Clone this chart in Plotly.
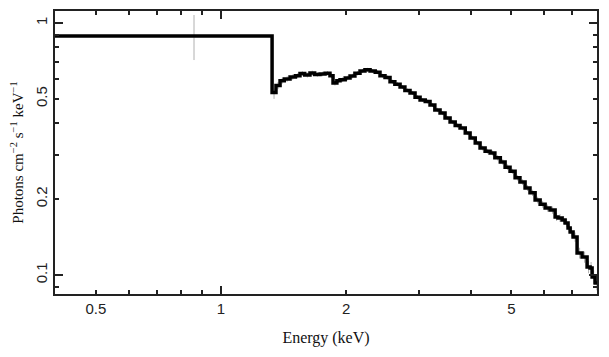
import plotly.graph_objects as go
import math

# Bin lower edges (keV) and flux (photons cm^-2 s^-1 keV^-1)
energy_lo = [0.395, 1.327, 1.356, 1.387, 1.42, 1.466, 1.51, 1.549, 1.59, 1.637,
             1.68, 1.731, 1.78, 1.829, 1.860, 1.90, 1.934, 1.99, 2.044, 2.10,
             2.160, 2.22, 2.284, 2.35, 2.413, 2.481, 2.551, 2.62, 2.697, 2.77,
             2.850, 2.93, 3.013, 3.10, 3.184, 3.27, 3.366, 3.46, 3.558, 3.66,
             3.760, 3.87, 3.975, 4.09, 4.201, 4.32, 4.441, 4.56, 4.70, 4.826,
             4.96, 5.101, 5.24, 5.391, 5.54, 5.699, 5.86, 6.024, 6.19, 6.367,
             6.47, 6.617, 6.73, 6.840, 6.92, 7.033, 7.191, 7.393, 7.601, 7.728,
             7.815, 7.946]
energy_end = 8.1
flux = [0.888, 0.530, 0.565, 0.590, 0.600, 0.610, 0.618, 0.630, 0.622, 0.633,
        0.625, 0.628, 0.632, 0.618, 0.578, 0.590, 0.596, 0.605, 0.616, 0.632,
        0.645, 0.652, 0.645, 0.638, 0.618, 0.608, 0.585, 0.572, 0.557, 0.540,
        0.528, 0.508, 0.495, 0.488, 0.473, 0.452, 0.439, 0.420, 0.405, 0.392,
        0.383, 0.366, 0.350, 0.334, 0.319, 0.310, 0.305, 0.292, 0.281, 0.268,
        0.258, 0.243, 0.234, 0.2215, 0.212, 0.1984, 0.191, 0.1845, 0.181, 0.170,
        0.1684, 0.1653, 0.1608, 0.1536, 0.1481, 0.1415, 0.1223, 0.1179, 0.1076, 0.1066,
        0.0982, 0.0930]
err_plus = [0.188, 0.020, 0.018, 0.016, 0.015, 0.015, 0.014, 0.014, 0.014, 0.014,
            0.013, 0.013, 0.013, 0.013, 0.013, 0.013, 0.013, 0.013, 0.013, 0.013,
            0.012, 0.012, 0.012, 0.012, 0.011, 0.011, 0.011, 0.011, 0.010, 0.010,
            0.010, 0.010, 0.009, 0.009, 0.009, 0.009, 0.008, 0.008, 0.008, 0.008,
            0.008, 0.007, 0.007, 0.007, 0.007, 0.007, 0.007, 0.007, 0.007, 0.007,
            0.006, 0.006, 0.006, 0.006, 0.006, 0.006, 0.006, 0.006, 0.006, 0.006,
            0.006, 0.006, 0.006, 0.006, 0.006, 0.006, 0.006, 0.006, 0.006, 0.006,
            0.006, 0.006]
err_minus = [0.175, 0.030, 0.018, 0.016, 0.015, 0.015, 0.014, 0.014, 0.014, 0.014,
             0.013, 0.013, 0.013, 0.013, 0.013, 0.013, 0.013, 0.013, 0.013, 0.013,
             0.012, 0.012, 0.012, 0.012, 0.011, 0.011, 0.011, 0.011, 0.010, 0.010,
             0.010, 0.010, 0.009, 0.009, 0.009, 0.009, 0.008, 0.008, 0.008, 0.008,
             0.008, 0.007, 0.007, 0.007, 0.007, 0.007, 0.007, 0.007, 0.007, 0.007,
             0.006, 0.006, 0.006, 0.006, 0.006, 0.006, 0.006, 0.006, 0.006, 0.006,
             0.006, 0.006, 0.006, 0.006, 0.006, 0.006, 0.006, 0.006, 0.006, 0.006,
             0.006, 0.006]

x_tick_vals = [0.5, 1, 2, 5]
x_tick_text = ["0.5", "1", "2", "5"]
x_minor_vals = [0.6, 0.7, 0.8, 0.9, 3, 4, 6, 7]
x_decade_vals = [1]
y_tick_vals = [0.1, 0.2, 0.5, 1]
y_tick_text = ["0.1", "0.2", "0.5", "1"]
y_minor_vals = [0.09, 0.3, 0.4, 0.6, 0.7, 0.8, 0.9]
y_decade_vals = [0.1, 1]

x_range = [0.3986, 8.03]
y_range = [0.0841, 1.116]

edges = energy_lo + [energy_end]
centers = [(edges[i] + edges[i + 1]) / 2 for i in range(len(energy_lo))]

fig = go.Figure()
fig.add_trace(go.Scatter(
    x=centers, y=flux, mode="markers",
    marker=dict(size=1, color="rgba(0,0,0,0)"),
    error_y=dict(type="data", symmetric=False, array=err_plus, arrayminus=err_minus,
                 color="#b0b0b0", thickness=1, width=0),
    hoverinfo="skip", showlegend=False))
fig.add_trace(go.Scatter(
    x=edges, y=flux + [flux[-1]], mode="lines", line_shape="hv",
    line=dict(color="black", width=3.5), showlegend=False))
fig.add_trace(go.Scatter(x=[1], y=[0.5], xaxis="x2", yaxis="y2", mode="markers",
                         marker=dict(size=1, color="rgba(0,0,0,0)"),
                         hoverinfo="skip", showlegend=False))

lr_x = [math.log10(v) for v in x_range]
lr_y = [math.log10(v) for v in y_range]
tick_font = dict(family="Liberation Sans, Arial, sans-serif", size=15, color="#222")
xtitle_font = dict(family="Liberation Serif, Times New Roman, serif", size=16, color="#111")
ytitle_font = dict(family="Liberation Serif, Times New Roman, serif", size=15, color="#111")

# the page body has an 8px default margin, so margins compensate for it
fig.update_layout(
    width=609, height=357,
    margin=dict(l=47, r=20, t=3, b=71, autoexpand=False),
    paper_bgcolor="white", plot_bgcolor="white",
    xaxis=dict(type="log", range=lr_x, tickmode="array", tickvals=x_tick_vals,
               ticktext=x_tick_text, ticks="inside", ticklen=4, tickwidth=1.5,
               tickcolor="#222", showline=True, linecolor="#222", linewidth=2,
               mirror="ticks", showgrid=False, zeroline=False, tickfont=tick_font,
               automargin=False,
               minor=dict(tickmode="array", tickvals=x_minor_vals, ticks="inside",
                          ticklen=4, tickwidth=1.5, tickcolor="#222", showgrid=False),
               title=dict(text="Energy (keV)", font=xtitle_font, standoff=16)),
    yaxis=dict(type="log", range=lr_y, tickmode="array", tickvals=y_tick_vals,
               ticktext=y_tick_text, ticks="inside", ticklen=4, tickwidth=1.5,
               tickcolor="#222", showline=True, linecolor="#222", linewidth=2,
               mirror="ticks", showgrid=False, zeroline=False, tickfont=tick_font,
               tickangle=-90, automargin=False,
               minor=dict(tickmode="array", tickvals=y_minor_vals, ticks="inside",
                          ticklen=4, tickwidth=1.5, tickcolor="#222", showgrid=False),
               title=dict(text="Photons cm<sup>−2</sup> s<sup>−1</sup> keV<sup>−1</sup>",
                          font=ytitle_font, standoff=9)),
    xaxis2=dict(type="log", range=lr_x, overlaying="x", anchor="y2", tickmode="array",
                tickvals=x_decade_vals, ticks="inside", ticklen=8, tickwidth=1.5,
                tickcolor="#222", mirror="ticks", showline=False, showgrid=False,
                showticklabels=False, zeroline=False, automargin=False),
    yaxis2=dict(type="log", range=lr_y, overlaying="y", anchor="x2", tickmode="array",
                tickvals=y_decade_vals, ticks="inside", ticklen=8, tickwidth=1.5,
                tickcolor="#222", mirror="ticks", showline=False, showgrid=False,
                showticklabels=False, zeroline=False, automargin=False),
)

fig.write_html("out.html")
